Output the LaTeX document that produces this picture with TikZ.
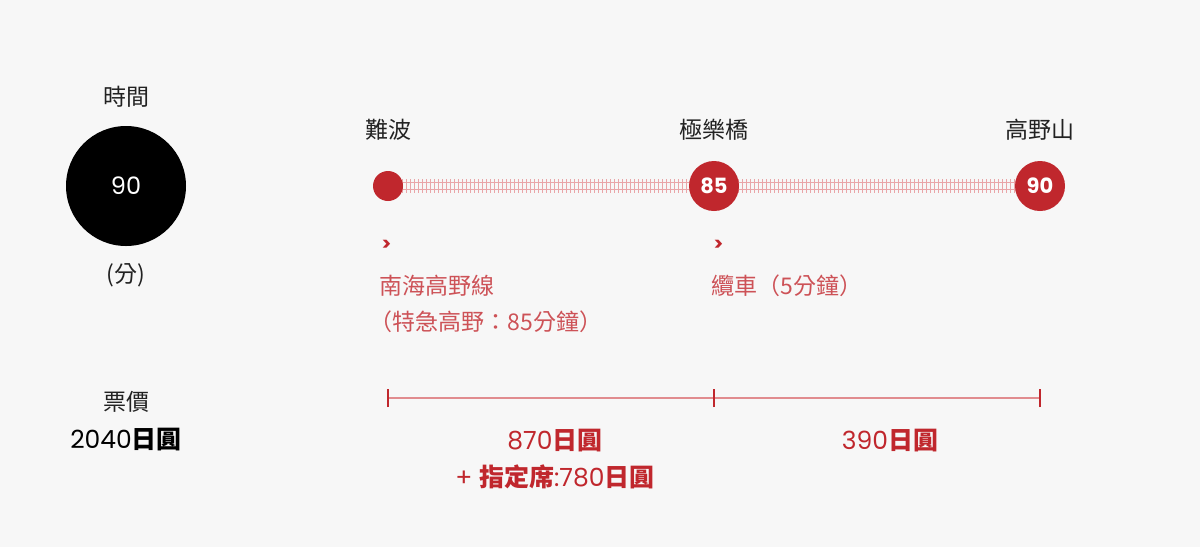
\documentclass[tikz,border=0pt]{standalone}
\usepackage{fontspec}
\setmainfont{Noto Sans CJK TC}
\newfontfamily\numfont{Poppins}
\newfontfamily\cjk{Noto Sans CJK TC}
\newcommand{\yen}{{\cjk\bfseries 日圓}}
\definecolor{bg}{HTML}{F7F7F7}
\definecolor{rd}{HTML}{C0272D}
\definecolor{pk}{HTML}{E9A5A8}
\definecolor{tx}{HTML}{222222}
\begin{document}
\begin{tikzpicture}[x=1pt,y=-1pt,
  lbl/.style={font=\fontsize{23}{26}\selectfont,text=tx},
  rlbl/.style={font=\fontsize{23}{26}\selectfont,text=rd!80,anchor=west},
  stn/.style={circle,fill=rd,minimum size=50pt,inner sep=0,text=white,font=\numfont\bfseries\fontsize{21}{22}\selectfont},
  price/.style={font=\numfont\fontsize{25}{28}\selectfont,text=rd}]
\fill[bg] (0,0) rectangle (1200,547);
\useasboundingbox (0,0) rectangle (1200,547);
\node[lbl] (tl) at (126,97) {時間};
\node[circle,fill=black,minimum size=120pt,inner sep=0,text=white,font=\numfont\fontsize{24}{26}\selectfont] (big) at (126,186) {90};
\node[lbl] (fen) at (126,275) {(分)};
% track
\draw[pk,line width=1.2] (388,182.5) -- (1040,182.5) (388,189.5) -- (1040,189.5);
\foreach \x in {390,394,...,1038} \draw[pk,line width=0.9] (\x,179) -- (\x,193);
\node[circle,fill=rd,minimum size=30pt,inner sep=0] (s1) at (388,186) {};
\node[stn] (s2) at (714,186) {85};
\node[stn] (s3) at (1040,186) {90};
\node[lbl] (n1) at (388,130) {難波};
\node[lbl] (n2) at (714,130) {極樂橋};
\node[lbl] (n3) at (1040,130) {高野山};
\node[rlbl,font=\numfont\bfseries\fontsize{18}{20}\selectfont,text=rd] (g1) at (378,245) {>};
\node[rlbl] (r1) at (376,286) {南海高野線};
\node[rlbl] (r2) at (366,322) {（特急高野：85分鐘）};
\node[rlbl,font=\numfont\bfseries\fontsize{18}{20}\selectfont,text=rd] (g2) at (710,245) {>};
\node[rlbl] (r3) at (708,286) {纜車（5分鐘）};
\node[lbl] (pl) at (126,402) {票價};
\node[font=\numfont\fontsize{25}{28}\selectfont,text=black] (pv) at (126,440) {2040\yen};
\coordinate (t1) at (388,398); \coordinate (t2) at (714,398); \coordinate (t3) at (1040,398);
\draw[pk!80!rd,line width=1.3] (t1) -- (t3);
\foreach \p in {t1,t2,t3} \draw[rd,line width=2.5] ([yshift=-9]\p) -- ([yshift=9]\p);
\node[price] (p1) at (555,441) {870\yen};
\node[price] (p2) at (555,477) {+ {\cjk\bfseries 指定席}:780\yen};
\node[price] (p3) at (890,441) {390\yen};
\end{tikzpicture}
\end{document}
